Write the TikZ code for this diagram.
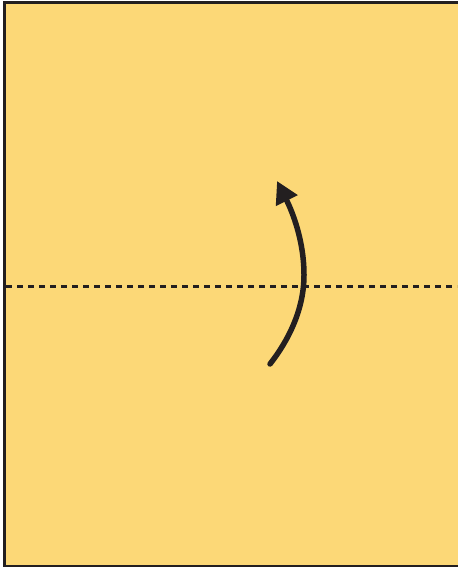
\documentclass[tikz,border=0pt]{standalone}
\usetikzlibrary{arrows.meta}
\definecolor{paper}{HTML}{FCD877}
\definecolor{ink}{HTML}{231F20}
\tikzset{
  sheet/.style={draw=ink, fill=paper, line width=2.8pt},
  foldline/.style={draw=ink, line width=3pt, dash pattern=on 6pt off 5pt},
  foldarrow/.style={draw=ink, line width=5.5pt, line cap=round, -{Triangle[length=22pt,width=23pt]}}
}
\begin{document}
\begin{tikzpicture}[x=1pt,y=-1pt]
\useasboundingbox (0,0) rectangle (457,569);
\path[sheet] (4.5,2.5) rectangle (460,566);
\coordinate (dl) at (6,286);
\coordinate (dr) at (457,286);
\draw[foldline] (dl) -- (dr);
\coordinate (a0) at (270,364);
\coordinate (a1) at (304,275);
\coordinate (a2) at (277,181);
\draw[foldarrow] (a0) .. controls (288,341) and (304,310) .. (a1)
  .. controls (304,240) and (292,211) .. (a2);
\end{tikzpicture}
\end{document}
